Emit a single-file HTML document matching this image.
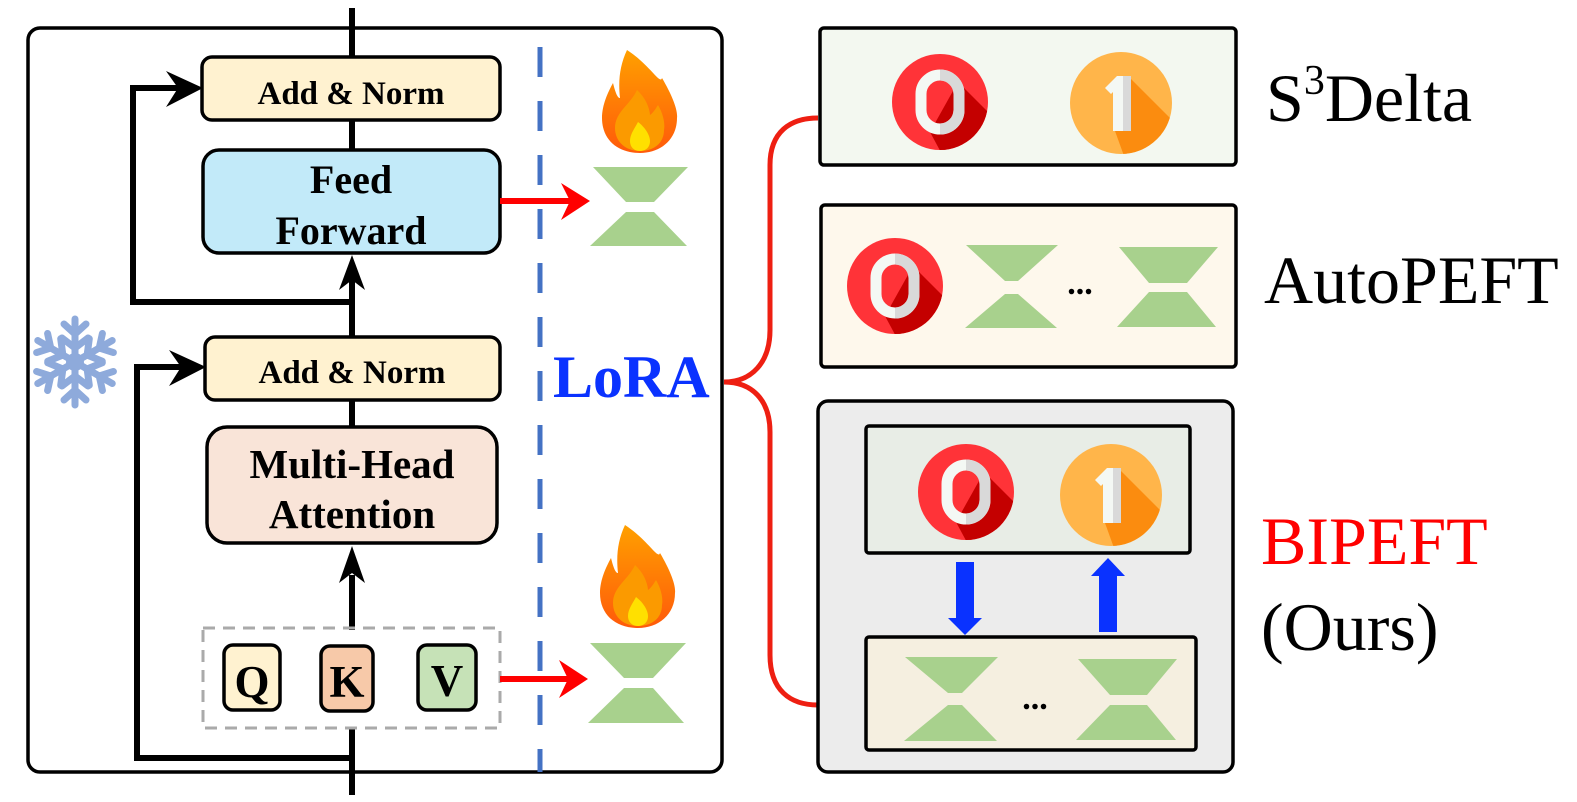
<!DOCTYPE html>
<html><head><meta charset="utf-8"><style>
html,body{margin:0;padding:0;background:#fff;}
svg{display:block;}
</style></head><body>
<svg width="1577" height="802" viewBox="0 0 1577 802" xmlns="http://www.w3.org/2000/svg">
<defs>
  <linearGradient id="fg" x1="0" y1="0" x2="0" y2="1">
    <stop offset="0" stop-color="#ffa000"/><stop offset="1" stop-color="#ff5a0a"/>
  </linearGradient>
  <g id="flame">
    <path d="M47,10 C70,25 80,45 82,38 C92,55 98,70 97,78 C97,100 80,113 60,113 C38,113 22,100 22,78 C22,65 28,52 33,43 C36,55 38,58 40,58 C38,40 40,25 47,10 Z" fill="url(#fg)"/>
    <path d="M57,50 C68,60 70,72 70,75 C74,72 76,68 78,65 C84,75 85,85 84,90 C84,103 74,111 60,111 C46,111 35,102 35,88 C35,72 50,65 57,50 Z" fill="#fb9a00"/>
    <path d="M58,82 C66,88 70,96 70,101 C70,108 65,111 60,111 C54,111 50,107 50,101 C50,94 55,88 58,82 Z" fill="#ffe000"/>
  </g>
  <clipPath id="cc"><circle cx="0" cy="0" r="48"/></clipPath>
  <clipPath id="cc1"><circle cx="0" cy="0" r="51"/></clipPath>
  <g id="c0">
    <circle r="48" fill="#ff3338"/>
    <path d="M18,-20 L75,37 L25,95 L-10,30 Z" fill="#c40000" clip-path="url(#cc)"/>
    <rect x="-19" y="-27" width="38" height="54" rx="19" fill="none" stroke="#f4f8f4" stroke-width="11"/>
    <path d="M0,-32.5 A24.5,24.5 0 0 1 24.5,-8 L24.5,8 A24.5,24.5 0 0 1 0,32.5 L0,21.5 A13.5,13.5 0 0 0 13.5,8 L13.5,-8 A13.5,13.5 0 0 0 0,-21.5 Z" fill="#d9d9d9"/>
  </g>
  <g id="c1">
    <circle r="51" fill="#ffb54a"/>
    <path d="M8,-26 L75,41 L20,100 L-6,28 Z" fill="#fb8c0f" clip-path="url(#cc1)"/>
    <path d="M-16,-15 L-4,-27 L2,-27 L2,28 L-8,28 L-8,-11 L-10,-9 Z" fill="#f4f8f4"/>
    <rect x="2" y="-27" width="8" height="55" fill="#d9d9d9"/>
  </g>
</defs>

<rect x="28" y="28" width="694" height="744" rx="12" fill="#fff" stroke="#000" stroke-width="3.5"/>
<line x1="540" y1="47" x2="540" y2="772" stroke="#4472c4" stroke-width="5" stroke-dasharray="30,24"/>

<g stroke="#000" stroke-width="6" fill="none">
  <line x1="352" y1="8" x2="352" y2="58"/>
  <line x1="352" y1="120" x2="352" y2="150"/>
  <line x1="352" y1="337" x2="352" y2="280"/>
  <line x1="352" y1="400" x2="352" y2="427"/>
  <line x1="352" y1="630" x2="352" y2="575"/>
  <line x1="352" y1="728" x2="352" y2="795"/>
  <polyline points="352,302 133,302 133,88 185,88"/>
  <polyline points="352,758 137,758 137,367 188,367"/>
</g>
<path d="M352,255 L365,290 L352,280 L339,290 Z" fill="#000"/>
<path d="M352,546 L365,583 L352,573 L339,583 Z" fill="#000"/>
<path d="M203,88 L166,71 L178,88 L166,107 Z" fill="#000"/>
<path d="M206,367 L169,350 L181,367 L169,386 Z" fill="#000"/>

<g font-family="Liberation Serif, serif" font-weight="bold" text-anchor="middle">
<rect x="202" y="57" width="298" height="63" rx="10" fill="#fff2d0" stroke="#000" stroke-width="3.5"/>
<text x="351" y="104" font-size="33">Add &amp; Norm</text>
<rect x="203" y="150" width="297" height="103" rx="16" fill="#c2eaf9" stroke="#000" stroke-width="3.5"/>
<text x="351" y="193" font-size="40">Feed</text>
<text x="351" y="244" font-size="40">Forward</text>
<rect x="205" y="337" width="295" height="63" rx="10" fill="#fff2d0" stroke="#000" stroke-width="3.5"/>
<text x="352" y="383" font-size="33">Add &amp; Norm</text>
<rect x="207" y="427" width="290" height="116" rx="20" fill="#f9e4d8" stroke="#000" stroke-width="3.5"/>
<text x="352" y="478" font-size="41">Multi-Head</text>
<text x="352" y="528" font-size="41">Attention</text>

<rect x="203" y="628" width="297" height="100" fill="none" stroke="#aaa" stroke-width="3" stroke-dasharray="12,8"/>
<rect x="224" y="645" width="56" height="65" rx="9" fill="#fff2d0" stroke="#000" stroke-width="3.5"/>
<text x="252" y="697" font-size="45">Q</text>
<rect x="321" y="646" width="52" height="65" rx="9" fill="#f7c9a9" stroke="#000" stroke-width="3.5"/>
<text x="347" y="697" font-size="45">K</text>
<rect x="418" y="645" width="58" height="65" rx="9" fill="#c6e2b7" stroke="#000" stroke-width="3.5"/>
<text x="447" y="696" font-size="45">V</text>
</g>

<line x1="500" y1="201" x2="570" y2="201" stroke="#ff0000" stroke-width="6"/>
<path d="M590,201 L561,183 L570,201 L561,220 Z" fill="#ff0000"/>
<line x1="500" y1="679" x2="568" y2="679" stroke="#ff0000" stroke-width="6"/>
<path d="M588,679 L559,660 L568,679 L559,698 Z" fill="#ff0000"/>

<use href="#flame" transform="translate(580,40)"/>
<use href="#flame" transform="translate(578,515)"/>

<text x="553" y="397" font-family="Liberation Serif, serif" font-weight="bold" font-size="60" fill="#0a32ff">LoRA</text>

<g transform="translate(75,362)" stroke="#8eaadb" stroke-width="7" stroke-linecap="round" fill="none">
  <g id="arm"><line x1="0" y1="0" x2="0" y2="-43"/><polyline points="-11,-38 0,-28 11,-38"/><polyline points="-13,-24 0,-14 13,-24"/></g>
  <use href="#arm" transform="rotate(60)"/><use href="#arm" transform="rotate(120)"/>
  <use href="#arm" transform="rotate(180)"/><use href="#arm" transform="rotate(240)"/><use href="#arm" transform="rotate(300)"/>
  <circle r="9" fill="#8eaadb" stroke="none"/>
</g>

<path d="M818,118 C790,118 770,132 770,165 L770,330 C770,362 752,382 724,382 C752,382 770,400 770,432 L770,655 C770,690 790,705 818,705" fill="none" stroke="#ee1f12" stroke-width="5"/>

<rect x="820" y="28" width="416" height="137" rx="4" fill="#f3f8f0" stroke="#000" stroke-width="3.5"/>
<use href="#c0" transform="translate(940,102)"/>
<use href="#c1" transform="translate(1121,103)"/>

<rect x="821" y="205" width="415" height="162" rx="4" fill="#fef8ec" stroke="#000" stroke-width="3.5"/>
<use href="#c0" transform="translate(895,286)"/>
<text x="1080" y="294" text-anchor="middle" font-family="Liberation Serif, serif" font-weight="bold" font-size="34">...</text>

<rect x="818" y="401" width="415" height="371" rx="10" fill="#ececec" stroke="#000" stroke-width="3.5"/>
<rect x="866" y="426" width="324" height="127" rx="3" fill="#e8ede6" stroke="#000" stroke-width="3.5"/>
<use href="#c0" transform="translate(966,492)"/>
<use href="#c1" transform="translate(1111,495)"/>
<rect x="866" y="637" width="330" height="113" rx="3" fill="#f5efe0" stroke="#000" stroke-width="3.5"/>
<text x="1035" y="709" text-anchor="middle" font-family="Liberation Serif, serif" font-weight="bold" font-size="34">...</text>
<rect x="956" y="562" width="18" height="58" fill="#0a32ff"/>
<path d="M948,618 L982,618 L965,635 Z" fill="#0a32ff"/>
<rect x="1099" y="574" width="18" height="58" fill="#0a32ff"/>
<path d="M1091,576 L1125,576 L1108,558 Z" fill="#0a32ff"/>

<g fill="#a8d18d">
  <polygon points="593,167 688,167 654,202 626,202"/>
  <polygon points="626,212 654,212 687,246 590,246"/>
  <polygon points="590,643 686,643 653,678 624,678"/>
  <polygon points="624,688 653,688 684,723 588,723"/>
  <polygon points="966,245 1058,245 1018,281 1005,281"/>
  <polygon points="1005,294 1018,294 1057,328 965,328"/>
  <polygon points="1119,247 1218,247 1187,283 1149,283"/>
  <polygon points="1149,292 1187,292 1216,327 1117,327"/>
  <polygon points="905,657 998,657 962,693 948,693"/>
  <polygon points="948,705 962,705 997,741 904,741"/>
  <polygon points="1078,659 1177,659 1147,695 1110,695"/>
  <polygon points="1110,705 1147,705 1176,740 1076,740"/>
</g>

<g font-family="Liberation Serif, serif" font-size="68">
<text x="1266" y="121">S<tspan font-size="42" dy="-27">3</tspan><tspan dy="27">Delta</tspan></text>
<text x="1264" y="303">AutoPEFT</text>
<text x="1261" y="564" fill="#ff0000">BIPEFT</text>
<text x="1261" y="650">(Ours)</text>
</g>
</svg>
</body></html>
